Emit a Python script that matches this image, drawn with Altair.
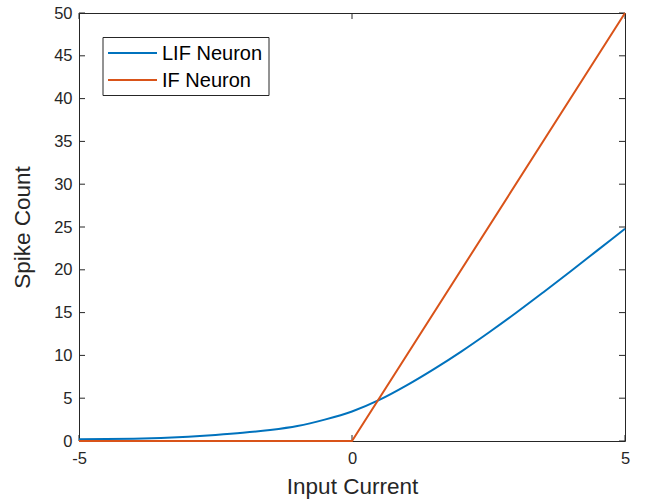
import altair as alt
import pandas as pd

# LIF neuron response curve
lif_x = [-5, -4.5, -4, -3.5, -3, -2.5, -2, -1.5, -1, -0.5, 0, 0.5, 1, 1.5, 2, 2.5, 3, 3.5, 4, 4.5, 5]
lif_y = [0.2, 0.22, 0.27, 0.36, 0.5, 0.7, 0.95, 1.28, 1.75, 2.5, 3.45, 4.8, 6.5, 8.4, 10.45, 12.65, 14.95, 17.35, 19.8, 22.3, 24.8]

# IF neuron response
if_x = [-5, 0, 5]
if_y = [0, 0, 50]

series_names = ["LIF Neuron", "IF Neuron"]
series_colors = ["#0072BD", "#D95319"]

x_ticks = [-5, 0, 5]
y_ticks = [0, 5, 10, 15, 20, 25, 30, 35, 40, 45, 50]

W, H = 546, 428
TICK = 6
AXC = "#262626"
FONT = "Liberation Sans"
LABEL_EXPR = "datum.value < 0 ? '-' + abs(datum.value) : '' + datum.value"

lif_df = pd.DataFrame({"x": lif_x, "y": lif_y, "s": series_names[0]})
if_df = pd.DataFrame({"x": if_x, "y": if_y, "s": series_names[1]})

xs = alt.Scale(domain=[-5, 5], nice=False, zero=False)
ys = alt.Scale(domain=[0, 50], nice=False, zero=False)
cs = alt.Scale(domain=series_names, range=series_colors)

x_axis = alt.Axis(values=x_ticks, ticks=False, domain=False, grid=False, labelPadding=9,
                  labelFontSize=16.5, labelColor=AXC, title="Input Current", titleFontSize=22.5,
                  titleFontWeight="normal", titleColor=AXC, titlePadding=9, labelFont=FONT,
                  titleFont=FONT, labelFlush=False, labelExpr=LABEL_EXPR)
y_axis = alt.Axis(values=y_ticks, ticks=False, domain=False, grid=False, labelPadding=7,
                  labelFontSize=16.5, labelColor=AXC, title="Spike Count", titleFontSize=22.5,
                  titleFontWeight="normal", titleColor=AXC, titlePadding=19, labelFont=FONT,
                  titleFont=FONT, labelFlush=False, labelExpr=LABEL_EXPR)

lif_line = alt.Chart(lif_df).mark_line(interpolate="monotone", strokeWidth=2).encode(
    x=alt.X("x:Q", scale=xs, axis=x_axis),
    y=alt.Y("y:Q", scale=ys, axis=y_axis),
    color=alt.Color("s:N", scale=cs, legend=None),
)
if_line = alt.Chart(if_df).mark_line(strokeWidth=2).encode(
    x=alt.X("x:Q", scale=xs),
    y=alt.Y("y:Q", scale=ys),
    color=alt.Color("s:N", scale=cs, legend=None),
)

yt_df = pd.DataFrame({"v": y_ticks})
xt_df = pd.DataFrame({"v": x_ticks})

ytick_left = alt.Chart(yt_df).mark_rule(color=AXC, strokeWidth=1).encode(
    y=alt.Y("v:Q", scale=ys), x=alt.value(0), x2=alt.value(TICK))
ytick_right = alt.Chart(yt_df).mark_rule(color=AXC, strokeWidth=1).encode(
    y=alt.Y("v:Q", scale=ys), x=alt.value(W - TICK), x2=alt.value(W))
xtick_bottom = alt.Chart(xt_df).mark_rule(color=AXC, strokeWidth=1).encode(
    x=alt.X("v:Q", scale=xs), y=alt.value(H), y2=alt.value(H - TICK))
xtick_top = alt.Chart(xt_df).mark_rule(color=AXC, strokeWidth=1).encode(
    x=alt.X("v:Q", scale=xs), y=alt.value(0), y2=alt.value(TICK))

# Legend drawn as its own marks (MATLAB-style box at upper left)
legend_layers = []
box = alt.Chart(pd.DataFrame({"s": [""]})).mark_rect(
    fill="white", stroke=AXC, strokeWidth=1).encode(
    x=alt.value(24), x2=alt.value(190), y=alt.value(24.5), y2=alt.value(82.5))
legend_layers.append(box)
row_y = [40, 67]
for name, ry in zip(series_names, row_y):
    d = pd.DataFrame({"s": [name]})
    legend_layers.append(
        alt.Chart(d).mark_rule(strokeWidth=2).encode(
            x=alt.value(29), x2=alt.value(78), y=alt.value(ry),
            color=alt.Color("s:N", scale=cs, legend=None)))
    legend_layers.append(
        alt.Chart(d).mark_text(align="left", baseline="middle", fontSize=20, font=FONT,
                               color="#000000").encode(
            x=alt.value(83), y=alt.value(ry + 1), text="s:N"))

chart = alt.layer(
    ytick_left, ytick_right, xtick_bottom, xtick_top, lif_line, if_line, *legend_layers
).properties(
    width=W, height=H,
    autosize=alt.AutoSizeParams(type="none"),
    padding={"left": 79, "top": 13, "right": 20, "bottom": 59},
    background="white",
).configure_view(
    stroke=AXC, strokeWidth=1
)

chart.save("out.html", embed_options={"renderer": "svg", "actions": False})
